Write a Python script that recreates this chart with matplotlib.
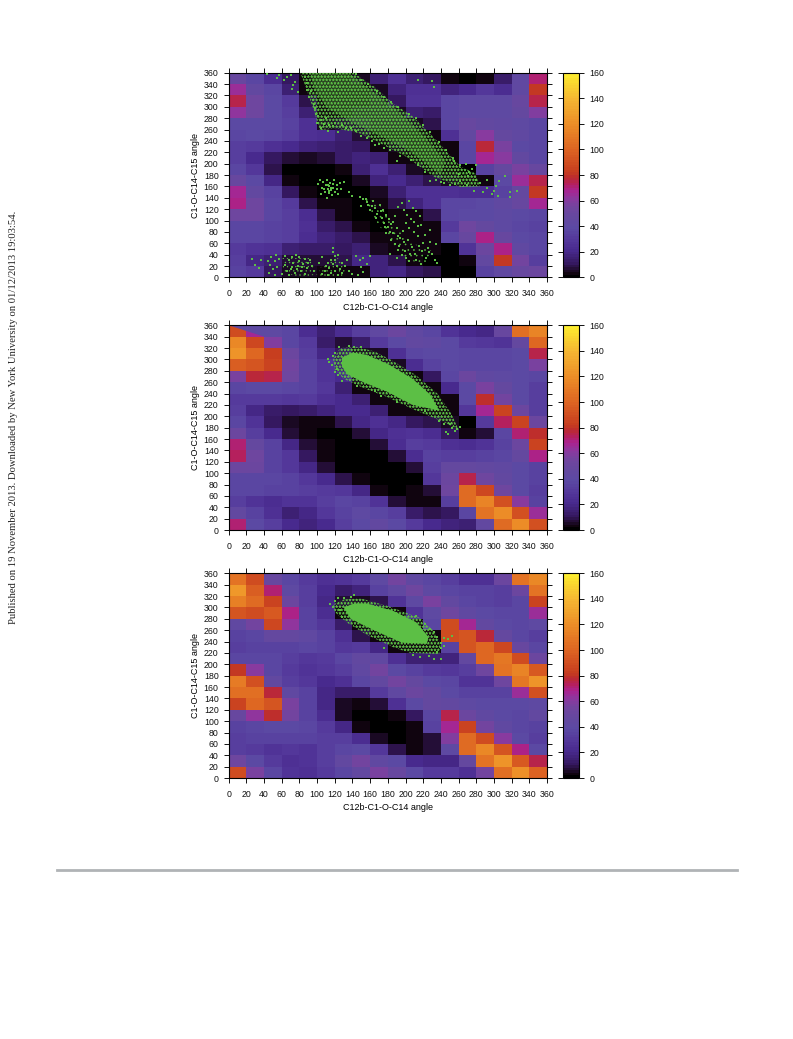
#!/usr/bin/env python3
"""Three torsion-angle free energy maps with sampled points on top, as one journal page."""
import numpy as np
import matplotlib
matplotlib.use("Agg")
import matplotlib.pyplot as plt
from matplotlib.colors import LinearSegmentedColormap, Normalize
from matplotlib.patches import Polygon

plt.rcParams.update({"font.family": ["Liberation Sans", "DejaVu Sans"], "font.size": 6.3,
                     "hatch.linewidth": 0.4, "axes.linewidth": 0.8})

W, H = 793, 1039
GREEN = "#5cbf45"
PAGE_NOTE = "Published on 19 November 2013. Downloaded by New York University on 01/12/2013 19:03:54."
XLABEL = "C12b-C1-O-C14 angle"
YLABEL = "C1-O-C14-C15 angle"
angle_ticks = list(range(0, 361, 20))
cbar_ticks = list(range(0, 161, 20))

palette_vals = [0, 2, 5, 10, 20, 30, 38, 46, 54, 62, 68, 73, 78, 82, 100, 120, 140, 152, 160]
palette_cols = ["#000000", "#10040f", "#1f0b2c", "#35185f", "#482a8e", "#55399c", "#5b49a3", "#63489f", "#70459f",
                "#8c389f", "#aa2390", "#b5205c", "#bb2a30", "#c63c1f", "#dd6422", "#ec8d27", "#f5b632", "#f9d52f",
                "#fdee30"]

# rows run from the 340-360 band down to the 0-20 band
cells_top = [
    [48, 36, 22, 10, 2, 3, 3, 4, 14, 24, 14, 10, 3, 1, 2, 12, 42, 70],
    [64, 44, 36, 14, 2, 3, 3, 3, 5, 16, 25, 25, 16, 20, 28, 22, 42, 80],
    [74, 52, 38, 30, 8, 3, 3, 3, 4, 10, 26, 26, 36, 40, 40, 40, 48, 74],
    [62, 52, 38, 32, 14, 3, 3, 4, 4, 4, 14, 12, 36, 40, 40, 40, 46, 58],
    [38, 38, 38, 34, 24, 4, 6, 6, 4, 4, 4, 8, 36, 48, 44, 42, 40, 36],
    [36, 38, 36, 32, 24, 22, 14, 6, 3, 3, 3, 3, 24, 44, 60, 46, 42, 36],
    [32, 30, 24, 20, 16, 14, 12, 10, 2, 4, 3, 3, 2, 36, 76, 56, 38, 36],
    [32, 20, 10, 6, 4, 6, 12, 16, 14, 3, 3, 3, 3, 36, 66, 60, 44, 36],
    [36, 28, 8, 1, 0, 0, 3, 14, 24, 14, 4, 3, 3, 1, 34, 46, 56, 48],
    [48, 38, 18, 2, 0, 0, 1, 4, 16, 20, 14, 8, 4, 2, 2, 38, 64, 74],
    [66, 44, 34, 10, 3, 1, 1, 1, 4, 14, 24, 24, 24, 22, 22, 34, 46, 80],
    [68, 52, 36, 30, 8, 3, 2, 0, 2, 8, 16, 24, 36, 36, 38, 42, 48, 66],
    [52, 52, 36, 32, 22, 8, 3, 1, 0, 2, 2, 8, 36, 38, 38, 40, 38, 36],
    [36, 36, 34, 32, 24, 12, 8, 3, 0, 2, 3, 2, 30, 52, 46, 40, 36, 34],
    [36, 36, 34, 32, 22, 16, 12, 8, 2, 2, 2, 3, 36, 48, 68, 48, 38, 36],
    [30, 26, 24, 14, 12, 12, 10, 14, 4, 2, 3, 2, 1, 26, 50, 68, 42, 36],
    [32, 18, 14, 6, 6, 6, 8, 18, 16, 8, 3, 1, 1, 2, 44, 80, 54, 32],
    [34, 30, 10, 4, 4, 2, 2, 3, 16, 18, 10, 8, 1, 0, 34, 42, 48, 50],
]
cells_mid = [
    [88, 66, 40, 36, 22, 14, 22, 32, 42, 50, 42, 36, 26, 20, 18, 48, 104, 114],
    [116, 86, 58, 36, 30, 12, 6, 12, 30, 38, 44, 42, 38, 30, 28, 26, 46, 100],
    [122, 100, 82, 50, 32, 18, 10, 4, 4, 24, 36, 38, 38, 36, 36, 36, 38, 74],
    [96, 92, 84, 54, 34, 26, 14, 4, 4, 4, 22, 34, 38, 36, 36, 36, 38, 56],
    [56, 76, 74, 52, 34, 26, 20, 4, 3, 3, 3, 10, 36, 50, 42, 40, 38, 36],
    [36, 38, 38, 36, 34, 28, 14, 2, 3, 3, 3, 3, 20, 38, 56, 46, 38, 32],
    [30, 30, 30, 28, 30, 24, 20, 14, 3, 3, 3, 3, 2, 38, 78, 54, 38, 32],
    [32, 18, 12, 10, 12, 16, 20, 20, 14, 3, 3, 3, 3, 28, 66, 84, 50, 32],
    [36, 26, 10, 4, 2, 3, 8, 18, 24, 18, 10, 8, 5, 1, 30, 72, 84, 50],
    [50, 32, 20, 6, 2, 1, 1, 6, 18, 24, 26, 22, 10, 3, 6, 36, 70, 78],
    [70, 46, 34, 18, 6, 2, 0, 0, 6, 22, 32, 30, 24, 22, 26, 34, 50, 84],
    [72, 52, 34, 28, 10, 2, 1, 0, 0, 6, 22, 34, 32, 32, 34, 36, 46, 68],
    [50, 50, 34, 28, 18, 6, 1, 0, 0, 1, 6, 32, 46, 46, 44, 42, 38, 34],
    [36, 36, 36, 34, 28, 20, 8, 2, 0, 0, 1, 28, 50, 74, 52, 44, 38, 34],
    [36, 36, 34, 34, 32, 30, 28, 18, 2, 0, 2, 6, 52, 102, 86, 52, 38, 32],
    [32, 26, 22, 26, 26, 32, 36, 34, 26, 6, 2, 3, 32, 102, 114, 90, 60, 34],
    [44, 34, 24, 14, 18, 28, 34, 40, 36, 32, 12, 8, 10, 36, 106, 118, 90, 64],
    [70, 38, 32, 20, 16, 20, 32, 38, 44, 38, 30, 20, 16, 14, 44, 102, 118, 90],
]
cells_bot = [
    [106, 88, 48, 36, 30, 24, 26, 30, 40, 54, 42, 36, 32, 24, 24, 50, 106, 116],
    [124, 96, 70, 40, 32, 20, 12, 16, 34, 42, 52, 40, 36, 34, 34, 32, 50, 106],
    [112, 102, 84, 50, 32, 18, 6, 4, 8, 26, 40, 56, 44, 36, 34, 32, 36, 84],
    [92, 88, 94, 68, 34, 22, 2, 3, 3, 3, 26, 40, 52, 42, 38, 36, 36, 64],
    [42, 54, 86, 62, 34, 28, 12, 3, 3, 3, 2, 36, 88, 66, 44, 38, 36, 40],
    [34, 36, 46, 46, 42, 34, 24, 8, 2, 3, 3, 3, 88, 92, 76, 46, 36, 32],
    [32, 34, 34, 34, 36, 34, 28, 30, 18, 2, 2, 3, 34, 92, 100, 86, 48, 36],
    [36, 36, 36, 32, 28, 30, 36, 44, 42, 24, 14, 14, 16, 44, 100, 108, 88, 50],
    [80, 60, 36, 30, 26, 28, 32, 42, 54, 38, 34, 30, 28, 32, 52, 106, 114, 94],
    [110, 90, 44, 32, 28, 20, 24, 36, 44, 54, 46, 38, 36, 26, 26, 52, 108, 122],
    [104, 104, 76, 42, 34, 18, 12, 12, 30, 42, 50, 46, 38, 34, 34, 34, 64, 90],
    [84, 100, 92, 56, 34, 18, 4, 2, 6, 24, 38, 46, 44, 40, 38, 38, 38, 40],
    [48, 62, 78, 54, 34, 22, 4, 0, 0, 2, 10, 36, 74, 50, 42, 38, 36, 44],
    [34, 36, 38, 38, 36, 30, 18, 2, 0, 0, 2, 34, 66, 84, 54, 42, 36, 34],
    [32, 34, 34, 34, 34, 32, 32, 22, 4, 1, 2, 6, 58, 102, 88, 60, 38, 32],
    [32, 30, 26, 28, 26, 32, 36, 38, 28, 8, 3, 6, 40, 102, 116, 92, 68, 38],
    [52, 38, 30, 24, 26, 32, 44, 54, 42, 38, 20, 18, 18, 46, 106, 122, 94, 74],
    [88, 56, 36, 26, 24, 30, 36, 44, 56, 48, 38, 30, 30, 24, 54, 104, 120, 98],
]

# cloud outlines, as (angle, angle) corners
top_band = [(81, 360), (141, 360), (165, 335), (186, 306), (209, 282), (235, 241), (262, 195), (279, 183),
            (284, 160), (262, 159), (232, 177), (201, 212), (171, 236), (149, 253), (122, 262), (103, 259),
            (96, 295), (84, 348)]
top_band_core = [(92, 360), (135, 360), (160, 330), (190, 295), (220, 250), (245, 205), (240, 180), (205, 222),
                 (170, 250), (140, 272), (110, 300), (96, 335)]
top_low_strand = [(150, 142), (170, 130), (190, 90), (205, 62), (232, 45), (225, 25), (200, 30), (180, 72), (160, 110)]
top_low_left = [(60, 34), (92, 34), (102, 6), (82, 0), (62, 8)]
top_low_mid = [(102, 16), (126, 36), (134, 8), (126, 0), (104, 0)]
mid_edge = [(118, 300), (126, 320), (145, 322), (165, 314), (185, 298), (212, 272), (236, 240), (252, 204), (260, 176),
            (243, 190), (209, 212), (179, 234), (152, 250), (130, 266), (120, 282)]
mid_core = [(128, 303), (140, 312), (156, 308), (180, 292), (208, 266), (228, 238), (238, 210), (208, 220),
            (178, 244), (152, 260), (134, 274), (128, 288)]
bot_edge = [(118, 305), (130, 314), (149, 316), (179, 303), (216, 282), (232, 258), (240, 236), (238, 218), (205, 220),
            (186, 230), (156, 252), (133, 274), (120, 292)]
bot_core = [(130, 300), (142, 307), (156, 307), (186, 294), (212, 274), (226, 248), (224, 236), (196, 238), (164, 260),
            (138, 280)]
cut_corner = [(0, 360), (40, 340), (40, 360)]

# single points
top_stray = [
    (43, 358), (57, 356), (55, 351), (62, 347), (66, 352), (73, 338), (75, 343), (72, 331), (70, 356), (78, 326),
    (88, 330), (91, 318), (97, 305), (99, 288), (100, 272), (104, 262), (108, 270), (112, 258), (118, 266),
    (124, 256), (133, 262), (150, 248), (165, 232), (176, 228), (190, 205), (228, 170), (240, 168), (250, 162),
    (262, 170), (270, 162), (278, 152), (284, 166), (288, 150), (292, 158), (298, 146), (302, 160), (306, 170),
    (312, 178), (318, 150), (318, 142), (326, 152), (300, 152), (280, 172), (292, 172), (305, 144), (271, 178),
    (275, 190), (280, 198), (268, 200), (260, 182), (255, 205), (214, 348), (230, 345), (232, 335),
    (86, 352), (89, 342), (93, 328), (95, 312), (98, 298), (101, 284), (104, 276), (110, 280), (114, 268), (120, 272),
    (128, 268), (138, 262), (144, 258), (156, 246), (162, 240), (170, 234), (182, 224), (194, 214), (206, 206),
    (214, 198), (222, 186), (234, 172), (244, 166), (256, 164), (144, 358), (150, 348), (158, 340), (168, 328),
    (176, 318), (184, 308), (192, 300), (204, 288), (212, 280), (220, 268), (228, 256), (238, 238), (246, 224),
    (254, 210), (262, 198), (272, 186),
]
top_low = [
    (101, 165), (103, 171), (105, 158), (107, 168), (109, 150), (110, 162), (111, 172), (112, 155), (113, 148),
    (114, 160), (115, 166), (116, 153), (117, 145), (118, 158), (119, 171), (120, 150), (122, 163), (124, 147),
    (127, 155), (130, 168), (112, 163), (108, 156), (116, 158), (118, 164), (114, 152), (136, 150), (140, 143),
    (148, 142), (152, 138), (156, 132), (150, 125), (158, 128), (160, 118), (163, 135), (166, 122), (168, 112),
    (171, 128), (173, 104), (175, 118), (176, 96), (178, 110), (180, 88), (181, 102), (184, 94), (186, 78),
    (188, 108), (190, 86), (192, 124), (194, 70), (196, 130), (198, 118), (198, 62), (200, 96), (202, 110),
    (204, 134), (206, 102), (208, 122), (210, 80), (212, 116), (214, 72), (216, 108), (218, 92), (220, 60),
    (222, 74), (225, 52), (228, 84), (230, 42), (233, 30), (235, 58), (236, 26), (228, 62), (178, 78), (183, 66),
    (188, 58), (192, 48), (196, 40), (200, 34), (204, 28), (212, 30), (218, 24), (190, 34), (182, 42),
    (46, 8), (47, 22), (48, 36), (50, 14), (52, 28), (52, 4), (54, 40), (55, 18), (57, 32), (45, 28),
    (60, 6), (64, 38), (68, 4), (72, 36), (76, 40), (80, 36), (86, 32), (92, 30), (94, 20), (96, 12),
    (102, 26), (106, 36), (110, 20), (120, 38), (118, 44), (118, 52), (124, 40), (128, 26), (132, 20), (134, 30),
    (136, 12), (140, 6), (144, 38), (148, 30), (150, 18), (152, 10), (152, 34), (156, 24), (160, 38), (146, 4),
    (26, 32), (30, 22), (34, 16), (36, 30),
    (64, 22), (68, 30), (70, 14), (73, 26), (75, 8), (78, 20), (80, 28), (82, 12), (84, 24), (86, 6), (88, 16),
    (90, 26), (66, 12), (72, 18), (77, 14), (83, 18), (106, 6), (109, 12), (112, 4), (114, 16), (116, 8), (118, 24),
    (120, 12), (122, 20), (124, 4), (126, 14), (128, 8), (116, 30), (112, 26), (120, 30), (155, 138), (162, 126),
    (167, 104), (172, 116), (177, 88), (182, 80), (186, 98), (191, 72), (193, 56), (199, 46), (203, 66), (207, 54),
    (211, 42), (215, 56), (219, 46), (223, 34), (197, 82), (204, 86), (210, 98), (214, 90), (226, 44), (205, 42),
    (104, 146), (122, 156), (126, 166), (111, 140),
]
mid_stray = [
    (112, 300), (114, 296), (117, 290), (118, 306), (120, 278), (120, 312), (122, 284), (124, 272), (125, 322),
    (128, 262), (136, 324), (142, 322), (150, 322), (145, 254), (165, 244), (172, 235), (190, 225), (222, 210),
    (238, 192), (244, 186), (250, 186), (253, 180), (256, 174), (258, 178), (246, 172), (248, 168), (262, 182),
]
bot_stray = [
    (115, 306), (118, 300), (120, 312), (124, 316), (126, 296), (128, 284), (130, 316), (138, 318), (142, 322),
    (212, 285), (222, 270), (228, 262), (232, 256), (236, 248), (240, 238), (240, 228), (236, 222), (244, 246),
    (248, 244), (252, 250), (240, 210), (232, 210), (226, 214), (216, 212), (208, 216), (244, 232), (176, 228),
]

panels = [
    {"top": 72.7, "cells": cells_top},
    {"top": 325.3, "cells": cells_mid},
    {"top": 573.3, "cells": cells_bot},
]
AX_LEFT, AX_W, AX_H = 228.7, 318.3, 204.7
CB_LEFT, CB_W = 562.7, 16.6

cmap = LinearSegmentedColormap.from_list(
    "pm3d", [(v / 160, c) for v, c in zip(palette_vals, palette_cols)], N=80)
norm = Normalize(0, 160)


def add_axes(fig, left, top, width, height):
    return fig.add_axes([left / W, 1 - (top + height) / H, width / W, height / H])


def stipple(ax, outline, pattern):
    ax.add_patch(Polygon(outline, closed=True, facecolor="none", edgecolor=GREEN, hatch=pattern, lw=0, zorder=3))


def dots(ax, pts, size=0.9):
    ax.scatter([p[0] for p in pts], [p[1] for p in pts], s=size, marker="s", color=GREEN, linewidths=0, zorder=4)


def main():
    fig = plt.figure(figsize=(W / 100, H / 100), dpi=100)
    edges = np.arange(0, 361, 20)
    for i, panel in enumerate(panels):
        ax = add_axes(fig, AX_LEFT, panel["top"], AX_W, AX_H)
        mesh = ax.pcolormesh(edges, edges, np.array(panel["cells"])[::-1], cmap=cmap, norm=norm)
        ax.set_xlim(0, 360)
        ax.set_ylim(0, 360)
        ax.set_xticks(angle_ticks)
        ax.set_yticks(angle_ticks)
        ax.tick_params(direction="out", length=3.8, width=0.7, top=True, right=True, pad=3.5, colors="#111111")
        ax.tick_params(axis="x", pad=4.5)
        ax.set_xlabel(XLABEL, labelpad=3.5, fontsize=6.45)
        ax.set_ylabel(YLABEL, labelpad=2.5, fontsize=6.45)

        if i == 0:
            stipple(ax, top_band, "*****")
            ax.add_patch(Polygon(top_band_core, closed=True, facecolor=GREEN, alpha=0.3, lw=0, zorder=3))
            stipple(ax, top_low_strand, "...")
            stipple(ax, top_low_left, "....")
            stipple(ax, top_low_mid, "....")
            dots(ax, top_stray)
            dots(ax, top_low)
        elif i == 1:
            ax.add_patch(Polygon(cut_corner, closed=True, facecolor=cmap(norm(40)), lw=0, zorder=2))
            stipple(ax, mid_edge, "*****")
            ax.add_patch(Polygon(mid_core, closed=True, facecolor=GREEN, lw=0, zorder=3))
            dots(ax, mid_stray)
        else:
            stipple(ax, bot_edge, "*****")
            ax.add_patch(Polygon(bot_core, closed=True, facecolor=GREEN, lw=0, zorder=3))
            dots(ax, bot_stray)

        cax = add_axes(fig, CB_LEFT, panel["top"], CB_W, AX_H)
        cb = fig.colorbar(mesh, cax=cax)
        cb.set_ticks(cbar_ticks)
        cb.outline.set_linewidth(0.8)
        cax.tick_params(direction="out", length=3.8, width=0.7, left=True, right=True, pad=3.5, colors="#111111")

    fig.text(13.5 / W, 1 - 417 / H, PAGE_NOTE, rotation=90, ha="center", va="center",
             family=["Liberation Serif", "DejaVu Serif"], fontsize=7.7, color="#222222")
    fig.add_artist(plt.Line2D([57 / W, 737 / W], [1 - 869.5 / H] * 2, color="#b0b3b6", lw=2.0))

    fig.savefig("out.png", dpi=100)
    plt.close(fig)


if __name__ == "__main__":
    main()
